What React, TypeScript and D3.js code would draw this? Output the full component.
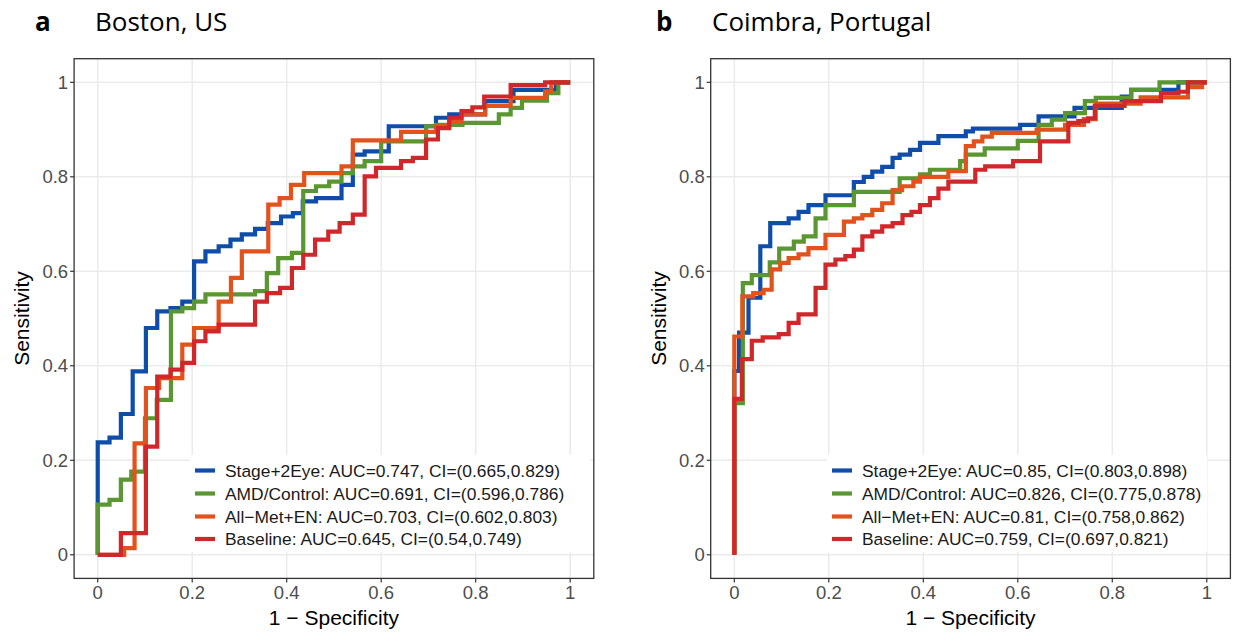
import React from "react";
import * as d3 from "d3";

type Pt = [number, number];

// ---------- Panel a: Boston, US ----------
const bostonStage: Pt[] = [[0,0],[0,0.238],[0.025,0.238],[0.025,0.248],[0.049,0.248],[0.049,0.298],[0.074,0.298],[0.074,0.388],[0.102,0.388],[0.102,0.48],[0.126,0.48],[0.126,0.515],[0.154,0.515],[0.154,0.522],[0.179,0.522],[0.179,0.536],[0.204,0.536],[0.204,0.621],[0.228,0.621],[0.228,0.642],[0.256,0.642],[0.256,0.653],[0.281,0.653],[0.281,0.667],[0.305,0.667],[0.305,0.678],[0.333,0.678],[0.333,0.69],[0.36,0.69],[0.36,0.702],[0.388,0.702],[0.388,0.716],[0.413,0.716],[0.413,0.723],[0.434,0.723],[0.434,0.748],[0.462,0.748],[0.462,0.755],[0.516,0.755],[0.516,0.783],[0.54,0.783],[0.54,0.847],[0.565,0.847],[0.565,0.854],[0.616,0.854],[0.616,0.907],[0.716,0.907],[0.716,0.925],[0.744,0.925],[0.744,0.932],[0.82,0.932],[0.82,0.96],[0.88,0.96],[0.88,0.984],[0.97,0.984],[0.97,1],[1,1]];
const bostonAMD: Pt[] = [[0,0],[0,0.106],[0.025,0.106],[0.025,0.116],[0.049,0.116],[0.049,0.159],[0.071,0.159],[0.071,0.176],[0.1,0.176],[0.1,0.289],[0.125,0.289],[0.125,0.328],[0.155,0.328],[0.155,0.515],[0.179,0.515],[0.179,0.522],[0.204,0.522],[0.204,0.536],[0.228,0.536],[0.228,0.551],[0.333,0.551],[0.333,0.558],[0.358,0.558],[0.358,0.596],[0.382,0.596],[0.382,0.628],[0.411,0.628],[0.411,0.639],[0.435,0.639],[0.435,0.77],[0.462,0.77],[0.462,0.78],[0.49,0.78],[0.49,0.79],[0.516,0.79],[0.516,0.808],[0.54,0.808],[0.54,0.822],[0.565,0.822],[0.565,0.833],[0.6,0.833],[0.6,0.875],[0.695,0.875],[0.695,0.907],[0.716,0.907],[0.716,0.91],[0.772,0.91],[0.772,0.914],[0.849,0.914],[0.849,0.932],[0.874,0.932],[0.874,0.946],[0.898,0.946],[0.898,0.961],[0.951,0.961],[0.951,0.977],[0.975,0.977],[0.975,1],[1,1]];
const bostonAllMet: Pt[] = [[0,0],[0.056,0],[0.056,0.014],[0.078,0.014],[0.078,0.236],[0.102,0.236],[0.102,0.353],[0.13,0.353],[0.13,0.374],[0.179,0.374],[0.179,0.445],[0.204,0.445],[0.204,0.48],[0.256,0.48],[0.256,0.536],[0.282,0.536],[0.282,0.586],[0.305,0.586],[0.305,0.642],[0.361,0.642],[0.361,0.741],[0.385,0.741],[0.385,0.755],[0.409,0.755],[0.409,0.783],[0.437,0.783],[0.437,0.808],[0.516,0.808],[0.516,0.822],[0.54,0.822],[0.54,0.877],[0.642,0.877],[0.642,0.895],[0.716,0.895],[0.716,0.907],[0.744,0.907],[0.744,0.918],[0.77,0.918],[0.77,0.932],[0.82,0.932],[0.82,0.95],[0.874,0.95],[0.874,0.967],[0.947,0.967],[0.947,0.981],[0.96,0.981],[0.96,1],[1,1]];
const bostonBaseline: Pt[] = [[0,0],[0.049,0],[0.049,0.046],[0.102,0.046],[0.102,0.229],[0.126,0.229],[0.126,0.377],[0.154,0.377],[0.154,0.392],[0.179,0.392],[0.179,0.406],[0.204,0.406],[0.204,0.452],[0.228,0.452],[0.228,0.473],[0.256,0.473],[0.256,0.487],[0.333,0.487],[0.333,0.536],[0.358,0.536],[0.358,0.554],[0.386,0.554],[0.386,0.565],[0.411,0.565],[0.411,0.607],[0.435,0.607],[0.435,0.635],[0.46,0.635],[0.46,0.667],[0.488,0.667],[0.488,0.684],[0.512,0.684],[0.512,0.702],[0.54,0.702],[0.54,0.72],[0.565,0.72],[0.565,0.801],[0.589,0.801],[0.589,0.819],[0.642,0.819],[0.642,0.833],[0.667,0.833],[0.667,0.84],[0.695,0.84],[0.695,0.879],[0.72,0.879],[0.72,0.903],[0.744,0.903],[0.744,0.925],[0.77,0.925],[0.77,0.939],[0.793,0.939],[0.793,0.947],[0.818,0.947],[0.818,0.97],[0.874,0.97],[0.874,0.994],[0.947,0.994],[0.947,1],[1,1]];

// ---------- Panel b: Coimbra, Portugal ----------
const coimbraStage: Pt[] = [[0,0],[0,0.389],[0.01,0.389],[0.01,0.47],[0.03,0.47],[0.03,0.544],[0.055,0.544],[0.055,0.653],[0.076,0.653],[0.076,0.702],[0.115,0.702],[0.115,0.712],[0.136,0.712],[0.136,0.726],[0.157,0.726],[0.157,0.74],[0.193,0.74],[0.193,0.761],[0.253,0.761],[0.253,0.789],[0.274,0.789],[0.274,0.8],[0.292,0.8],[0.292,0.811],[0.313,0.811],[0.313,0.821],[0.335,0.821],[0.335,0.84],[0.35,0.84],[0.35,0.847],[0.372,0.847],[0.372,0.857],[0.393,0.857],[0.393,0.872],[0.432,0.872],[0.432,0.886],[0.49,0.886],[0.49,0.896],[0.505,0.896],[0.505,0.902],[0.605,0.902],[0.605,0.91],[0.644,0.91],[0.644,0.928],[0.72,0.928],[0.72,0.946],[0.82,0.946],[0.82,0.97],[0.84,0.97],[0.84,0.984],[0.94,0.984],[0.94,1],[1,1]];
const coimbraAMD: Pt[] = [[0,0],[0,0.321],[0.018,0.321],[0.018,0.575],[0.037,0.575],[0.037,0.592],[0.075,0.592],[0.075,0.619],[0.095,0.619],[0.095,0.648],[0.126,0.648],[0.126,0.663],[0.147,0.663],[0.147,0.674],[0.172,0.674],[0.172,0.712],[0.193,0.712],[0.193,0.74],[0.253,0.74],[0.253,0.768],[0.35,0.768],[0.35,0.797],[0.393,0.797],[0.393,0.805],[0.414,0.805],[0.414,0.815],[0.478,0.815],[0.478,0.833],[0.49,0.833],[0.49,0.847],[0.53,0.847],[0.53,0.86],[0.6,0.86],[0.6,0.876],[0.644,0.876],[0.644,0.91],[0.672,0.91],[0.672,0.921],[0.7,0.921],[0.7,0.935],[0.742,0.935],[0.742,0.96],[0.765,0.96],[0.765,0.967],[0.84,0.967],[0.84,0.984],[0.9,0.984],[0.9,1],[1,1]];
const coimbraAllMet: Pt[] = [[0,0],[0,0.462],[0.017,0.462],[0.017,0.547],[0.04,0.547],[0.04,0.554],[0.062,0.554],[0.062,0.561],[0.079,0.561],[0.079,0.604],[0.097,0.604],[0.097,0.618],[0.115,0.618],[0.115,0.628],[0.136,0.628],[0.136,0.636],[0.157,0.636],[0.157,0.649],[0.193,0.649],[0.193,0.677],[0.232,0.677],[0.232,0.705],[0.253,0.705],[0.253,0.712],[0.271,0.712],[0.271,0.719],[0.292,0.719],[0.292,0.73],[0.313,0.73],[0.313,0.744],[0.335,0.744],[0.335,0.772],[0.355,0.772],[0.355,0.78],[0.379,0.78],[0.379,0.79],[0.393,0.79],[0.393,0.8],[0.453,0.8],[0.453,0.812],[0.49,0.812],[0.49,0.865],[0.507,0.865],[0.507,0.875],[0.525,0.875],[0.525,0.885],[0.545,0.885],[0.545,0.893],[0.64,0.893],[0.64,0.9],[0.7,0.9],[0.7,0.91],[0.74,0.91],[0.74,0.922],[0.765,0.922],[0.765,0.955],[0.86,0.955],[0.86,0.968],[0.96,0.968],[0.96,0.99],[0.99,0.99],[0.99,1],[1,1]];
const coimbraBaseline: Pt[] = [[0,0],[0,0.33],[0.016,0.33],[0.016,0.414],[0.037,0.414],[0.037,0.453],[0.06,0.453],[0.06,0.46],[0.094,0.46],[0.094,0.467],[0.115,0.467],[0.115,0.491],[0.136,0.491],[0.136,0.509],[0.172,0.509],[0.172,0.565],[0.193,0.565],[0.193,0.614],[0.214,0.614],[0.214,0.625],[0.235,0.625],[0.235,0.632],[0.253,0.632],[0.253,0.646],[0.271,0.646],[0.271,0.674],[0.292,0.674],[0.292,0.684],[0.313,0.684],[0.313,0.695],[0.335,0.695],[0.335,0.702],[0.356,0.702],[0.356,0.719],[0.375,0.719],[0.375,0.726],[0.393,0.726],[0.393,0.74],[0.414,0.74],[0.414,0.755],[0.432,0.755],[0.432,0.775],[0.453,0.775],[0.453,0.79],[0.51,0.79],[0.51,0.815],[0.531,0.815],[0.531,0.822],[0.59,0.822],[0.59,0.833],[0.647,0.833],[0.647,0.875],[0.707,0.875],[0.707,0.914],[0.728,0.914],[0.728,0.918],[0.749,0.918],[0.749,0.924],[0.763,0.924],[0.763,0.95],[0.826,0.95],[0.826,0.96],[0.903,0.96],[0.903,0.977],[0.94,0.977],[0.94,0.98],[0.96,0.98],[0.96,1],[1,1]];

const seriesNames = ["Stage+2Eye", "AMD/Control", "All\u2212Met+EN", "Baseline"];
const seriesColors = ["#0f4ea8", "#5a9632", "#e2521c", "#d0272b"];
const bostonLabels = [
  "Stage+2Eye: AUC=0.747, CI=(0.665,0.829)",
  "AMD/Control: AUC=0.691, CI=(0.596,0.786)",
  "All\u2212Met+EN: AUC=0.703, CI=(0.602,0.803)",
  "Baseline: AUC=0.645, CI=(0.54,0.749)",
];
const coimbraLabels = [
  "Stage+2Eye: AUC=0.85, CI=(0.803,0.898)",
  "AMD/Control: AUC=0.826, CI=(0.775,0.878)",
  "All\u2212Met+EN: AUC=0.81, CI=(0.758,0.862)",
  "Baseline: AUC=0.759, CI=(0.697,0.821)",
];
const tickValues = [0, 0.2, 0.4, 0.6, 0.8, 1];
const tickLabels = ["0", "0.2", "0.4", "0.6", "0.8", "1"];

const SANS = "'Liberation Sans', Arial, sans-serif";
const TITLE_FONT = "'Open Sans', sans-serif";

interface PanelProps {
  left: number;
  letter: string;
  letterX: number;
  title: string;
  titleX: number;
  curves: Pt[][];
  labels: string[];
  legendX: number;
  legendW: number;
}

function Panel({ left, letter, letterX, title, titleX, curves, labels, legendX, legendW }: PanelProps) {
  const x0 = left;
  const w = 519.7;
  const top = 58.7;
  const h = 519.7;
  const x = d3.scaleLinear().domain([-0.05, 1.05]).range([x0, x0 + w]);
  const y = d3.scaleLinear().domain([-0.05, 1.05]).range([top + h, top]);
  const line = d3.line<Pt>().x((d) => x(d[0])).y((d) => y(d[1]));
  const legendTop = 455;
  const legendH = 97;
  const rowY = [470.5, 493.5, 516.5, 539];
  return (
    <g>
      <text x={letterX} y={31} fontFamily={TITLE_FONT} fontWeight="bold" fontSize={26} fill="#000">{letter}</text>
      <text x={titleX} y={31} fontFamily={TITLE_FONT} fontSize={26} fill="#000">{title}</text>
      <rect x={x0} y={top} width={w} height={h} fill="#fff" />
      {tickValues.map((v, i) => (
        <line key={"gx" + i} x1={x(v)} x2={x(v)} y1={top} y2={top + h} stroke="#ebebeb" strokeWidth={1.5} />
      ))}
      {tickValues.map((v, i) => (
        <line key={"gy" + i} x1={x0} x2={x0 + w} y1={y(v)} y2={y(v)} stroke="#ebebeb" strokeWidth={1.5} />
      ))}
      {curves.map((c, i) => (
        <path key={"c" + i} d={line(c) || ""} fill="none" stroke={seriesColors[i]} strokeWidth={4.2} strokeLinejoin="miter" strokeLinecap="butt" />
      ))}
      <rect x={legendX} y={legendTop} width={legendW} height={legendH} fill="#fff" />
      {labels.map((lab, i) => (
        <g key={"l" + i}>
          <line x1={legendX + 5} x2={legendX + 25} y1={rowY[i]} y2={rowY[i]} stroke={seriesColors[i]} strokeWidth={4.2} />
          <text x={legendX + 35} y={rowY[i]} dy="0.36em" fontFamily={SANS} fontSize={17.4} fill="#1a1a1a">{lab}</text>
        </g>
      ))}
      <rect x={x0} y={top} width={w} height={h} fill="none" stroke="#333" strokeWidth={1.3} />
      {tickValues.map((v, i) => (
        <g key={"tx" + i}>
          <line x1={x(v)} x2={x(v)} y1={top + h} y2={top + h + 4} stroke="#333" strokeWidth={1.2} />
          <text x={x(v)} y={top + h + 21} textAnchor="middle" fontFamily={SANS} fontSize={18.5} fill="#4d4d4d">{tickLabels[i]}</text>
        </g>
      ))}
      {tickValues.map((v, i) => (
        <g key={"ty" + i}>
          <line x1={x0 - 4} x2={x0} y1={y(v)} y2={y(v)} stroke="#333" strokeWidth={1.2} />
          <text x={x0 - 6} y={y(v)} dy="0.36em" textAnchor="end" fontFamily={SANS} fontSize={18.5} fill="#4d4d4d">{tickLabels[i]}</text>
        </g>
      ))}
      <text x={x0 + w / 2} y={625} textAnchor="middle" fontFamily={SANS} fontSize={21} fill="#000">1 − Specificity</text>
      <text transform={`translate(${x0 - 45},${top + h / 2}) rotate(-90)`} textAnchor="middle" fontFamily={SANS} fontSize={21} fill="#000">Sensitivity</text>
    </g>
  );
}

export default function App() {
  return (
    <svg width={1238} height={633} style={{ display: "block", position: "absolute", left: 0, top: 0 }}>
      <rect width={1238} height={633} fill="#fff" />
      <Panel left={74.1} letter="a" letterX={35} title="Boston, US" titleX={95} curves={[bostonStage, bostonAMD, bostonAllMet, bostonBaseline]} labels={bostonLabels} legendX={190} legendW={400} />
      <Panel left={710.7} letter="b" letterX={656} title="Coimbra, Portugal" titleX={712} curves={[coimbraStage, coimbraAMD, coimbraAllMet, coimbraBaseline]} labels={coimbraLabels} legendX={827} legendW={380} />
    </svg>
  );
}
